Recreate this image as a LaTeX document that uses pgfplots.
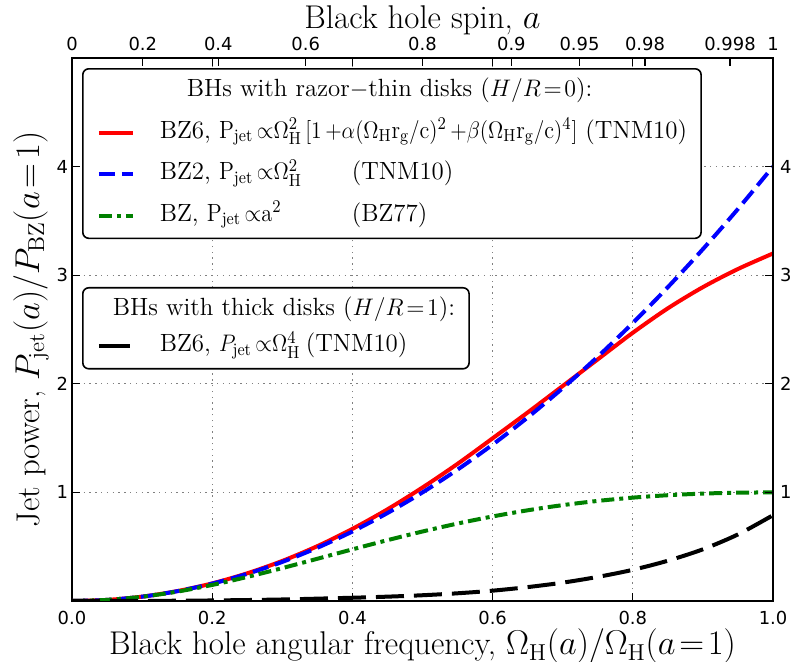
\documentclass[border=0pt]{standalone}
\usepackage{fontspec}
\usepackage{graphicx}
\usepackage{pgfplots}
\pgfplotsset{compat=1.18}
\newfontfamily\dejavu{DejaVu Sans}
\definecolor{mplgreen}{rgb}{0,0.5,0}
% matplotlib's mathtext sets these formulas a little narrower than TeX
\newcommand{\mt}[1]{\scalebox{0.9}[1]{$#1$}}

\pgfplotsset{
  bhframe/.style={
    scale only axis, width=350.5bp, height=271.5bp,
    at={(0,0)}, anchor=south west,
    xmin=0, xmax=1, ymin=0, ymax=5,
    major tick length=4bp,
    tick style={black, line width=0.6bp},
    axis line style={line width=0.8bp},
    tick label style={font=\dejavu\fontsize{9}{10}\selectfont},
    /pgf/number format/assume math mode=true,
    label style={font=\fontsize{16.5}{19}\selectfont},
    legend cell align=left,
    legend image code/.code={\draw[##1] (0bp,0bp) -- (17bp,0bp);},
    legend style={draw=black, line width=0.8bp, rounded corners=3bp,
      fill=white, inner xsep=7bp, inner ysep=5bp,
      font=\fontsize{12.5}{15}\selectfont,
      nodes={inner sep=0pt, text height=9bp, text depth=3.5bp}},
  },
}

\begin{document}
\begin{tikzpicture}
\useasboundingbox (-36bp,-30.5bp) rectangle (360bp,300.5bp);

\begin{axis}[bhframe,
  xtick={0,0.2,0.4,0.6,0.8,1}, xticklabels={0.0,0.2,0.4,0.6,0.8,1.0},
  ytick={1,2,3,4},
  xticklabel style={yshift=-1.5bp},
  yticklabel style={xshift=1.5bp},
  grid=major,
  grid style={gray, line width=0.6bp, dash pattern=on 0.7bp off 2.2bp},
  xlabel={Black hole angular frequency, $\Omega_{\rm H}(a)/\Omega_{\rm H}(a\!=\!1)$},
  ylabel={Jet power, $P_{\rm jet}(a)/P_{\rm BZ}(a\!=\!1)$},
  xlabel style={at={(axis description cs:0.5,-0.0994)}, anchor=base},
  ylabel style={at={(axis description cs:-0.047,0.5)}, anchor=base},
  legend style={at={(axis description cs:0.01427,0.98158)}, anchor=north west,
    row sep=8.25bp, column sep=12.5bp},
]
\addlegendimage{empty legend}
\addlegendentry{\hspace*{13.5bp}BHs with razor$-$thin disks ($H/R\!=\!0$):}

\addplot[red, line width=2bp, smooth] coordinates {
  (0,0) (0.05,0.010) (0.1,0.040) (0.15,0.091) (0.2,0.162) (0.25,0.255)
  (0.3,0.369) (0.35,0.505) (0.4,0.664) (0.45,0.844) (0.5,1.045)
  (0.55,1.263) (0.6,1.498) (0.65,1.736) (0.7,1.980) (0.75,2.225)
  (0.8,2.470) (0.85,2.695) (0.9,2.890) (0.95,3.057) (1.0,3.200)};
\addlegendentry{BZ6, \mt{\mathrm{P_{jet}}\mskip3mu{\propto}\Omega_{\mathrm{H}}^2\,[1\mskip3mu{+}\alpha(\Omega_{\mathrm{H}}\mathrm{r_g}/\mathrm{c})^2\mskip3mu{+}\beta(\Omega_{\mathrm{H}}\mathrm{r_g}/\mathrm{c})^4]} (TNM10)}

\addplot[blue, line width=2bp, smooth, dash pattern=on 8bp off 3.5bp] coordinates {
  (0,0) (0.05,0.01) (0.1,0.04) (0.15,0.09) (0.2,0.16) (0.25,0.25)
  (0.3,0.36) (0.35,0.49) (0.4,0.64) (0.45,0.81) (0.5,1.0)
  (0.55,1.21) (0.6,1.44) (0.65,1.69) (0.7,1.96) (0.75,2.25)
  (0.8,2.56) (0.85,2.89) (0.9,3.24) (0.95,3.61) (1.0,4.0)};
\addlegendentry{\makebox[96bp][l]{BZ2, \mt{\mathrm{P_{jet}}\mskip3mu{\propto}\Omega_{\mathrm{H}}^2}}(TNM10)}

\addplot[mplgreen, line width=2bp, smooth, dash pattern=on 6.5bp off 2.5bp on 2bp off 2.5bp] coordinates {
  (0,0) (0.05,0.0100) (0.1,0.0392) (0.15,0.0861) (0.2,0.1479) (0.25,0.2215)
  (0.3,0.3030) (0.35,0.3889) (0.4,0.4756) (0.45,0.5602) (0.5,0.6400)
  (0.55,0.7132) (0.6,0.7785) (0.65,0.8352) (0.7,0.8828) (0.75,0.9216)
  (0.8,0.9518) (0.85,0.9741) (0.9,0.9890) (0.95,0.9974) (1.0,1.0)};
\addlegendentry{\makebox[96bp][l]{BZ, \mt{\mathrm{P_{jet}}\mskip3mu{\propto}\mathrm{a}^2}}(BZ77)}

\addplot[black, line width=2bp, smooth, dash pattern=on 14bp off 5bp, forget plot] coordinates {
  (0,0) (0.1,0.001) (0.2,0.005) (0.3,0.014) (0.4,0.030) (0.45,0.040)
  (0.5,0.053) (0.55,0.071) (0.6,0.095) (0.65,0.128) (0.7,0.169)
  (0.75,0.222) (0.8,0.287) (0.85,0.371) (0.9,0.476) (0.95,0.613) (1.0,0.79)};
\end{axis}

\begin{axis}[bhframe,
  axis x line*=top, axis y line*=right,
  axis line style={-},
  xtick={0,0.10102,0.20871,0.33333,0.5,0.62679,0.72395,0.81735,0.93866,1},
  xticklabels={0,0.2,0.4,0.6,0.8,0.9,0.95,0.98,0.998,1},
  ytick={1,2,3,4},
  xlabel={Black hole spin, $a$},
  xlabel style={at={(axis description cs:0.5,1.0552)}, anchor=base},
  legend style={at={(axis description cs:0.01427,0.5783)}, anchor=north west,
    row sep=5.5bp, column sep=12.5bp},
]
\addlegendimage{empty legend}
\addlegendentry{\hspace*{-23.5bp}BHs with thick disks ($H/R\!=\!1$):}
\addlegendimage{black, line width=2bp, dash pattern=on 15.5bp off 5bp}
\addlegendentry{\makebox[73bp][l]{BZ6, \mt{P_{\rm jet}\mskip3mu{\propto}\Omega_{\rm H}^4}}(TNM10)}
\end{axis}
\end{tikzpicture}
\end{document}
